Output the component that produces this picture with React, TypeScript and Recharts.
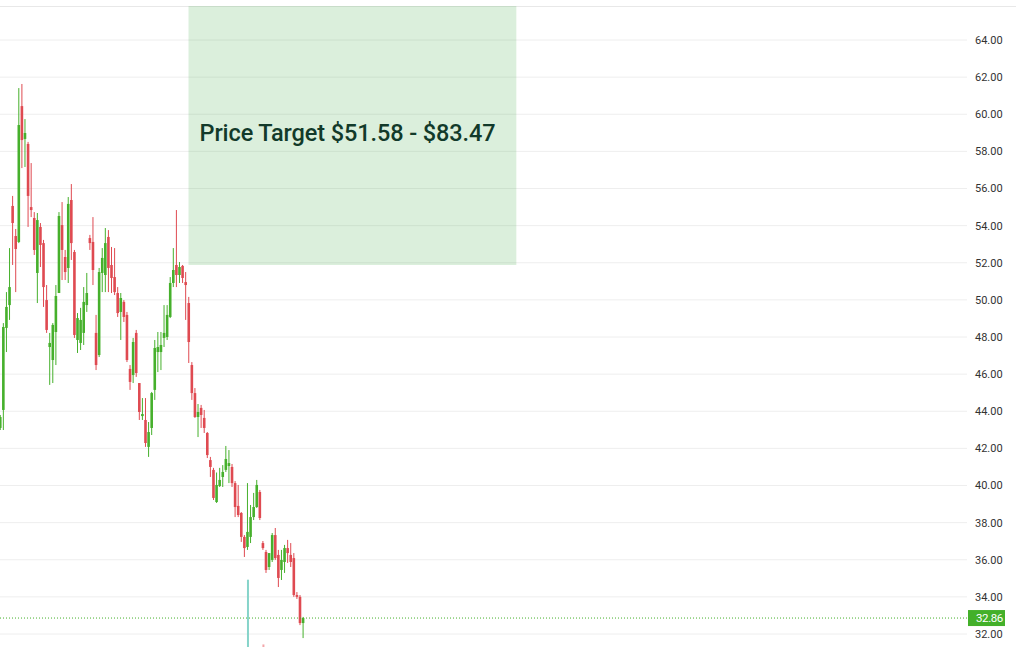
import {
  ComposedChart, Bar, XAxis, YAxis, CartesianGrid, ReferenceArea, ReferenceLine, Cell,
} from "recharts";

// daily candles, oldest first (prices in $)
const opens = [
  43.10, 44.07, 48.49, 49.72, 55.06, 53.44, 53.12, 60.44, 58.67, 58.40,
  55.00, 54.41, 51.45, 53.93, 53.06, 49.99, 47.46, 46.76, 48.27, 50.37,
  54.03, 52.31, 51.72, 55.38, 52.58, 47.84, 47.68, 48.22, 49.72, 53.33,
  53.12, 48.22, 47.03, 51.45, 51.34, 53.39, 51.88, 51.23, 50.37, 49.35,
  49.89, 49.19, 46.28, 45.95, 48.22, 45.52, 43.74, 43.53, 42.08, 43.10,
  45.15, 47.19, 47.19, 47.95, 48.00, 49.08, 50.91, 51.88, 51.34, 51.83,
  50.96, 49.83, 46.49, 44.98, 43.69, 44.18, 43.64, 42.83, 41.37, 40.84,
  39.11, 39.97, 40.46, 40.84, 41.05, 41.00, 40.13, 38.90, 38.52, 37.23,
  36.69, 37.23, 38.30, 38.84, 39.65, 36.90, 36.42, 35.61, 35.99, 37.33,
  36.26, 35.45, 35.88, 36.63, 36.26, 36.09, 34.10, 34.00, 32.59,
];
const highs = [
  43.80, 48.75, 50.42, 52.79, 55.60, 53.82, 61.41, 61.63, 59.74, 58.51,
  57.37, 54.73, 54.68, 54.14, 53.23, 50.80, 48.22, 48.75, 50.80, 54.73,
  55.27, 52.69, 55.54, 56.24, 52.69, 49.29, 49.57, 50.69, 51.45, 53.50,
  54.46, 49.19, 51.72, 52.79, 53.87, 53.76, 52.85, 52.79, 50.69, 50.37,
  49.99, 49.35, 46.49, 47.95, 48.38, 45.52, 44.71, 44.71, 43.42, 45.04,
  47.84, 48.27, 48.27, 49.72, 49.72, 51.23, 52.79, 54.84, 52.04, 51.88,
  51.50, 50.16, 46.65, 45.25, 44.39, 44.34, 44.07, 42.88, 41.54, 40.95,
  40.70, 40.95, 41.10, 42.13, 41.91, 41.16, 40.24, 40.03, 38.57, 37.33,
  40.13, 38.95, 39.60, 40.30, 39.76, 37.01, 36.53, 36.36, 37.44, 37.71,
  36.53, 36.53, 36.80, 37.07, 36.90, 36.36, 34.26, 34.10, 32.92,
];
const lows = [
  42.99, 42.99, 47.19, 48.92, 51.88, 50.42, 53.06, 57.10, 57.16, 53.93,
  54.46, 52.42, 49.83, 51.77, 49.62, 48.22, 45.42, 45.52, 46.49, 50.37,
  51.07, 51.07, 50.91, 52.15, 47.95, 47.14, 47.30, 47.57, 49.35, 52.69,
  50.80, 46.22, 46.92, 50.42, 50.42, 50.42, 50.37, 50.26, 49.08, 47.84,
  48.81, 46.65, 45.15, 45.52, 45.85, 43.53, 43.53, 42.08, 41.54, 42.72,
  44.61, 46.11, 46.22, 47.46, 47.84, 49.02, 50.69, 50.69, 50.91, 50.91,
  48.92, 46.60, 44.61, 43.64, 42.61, 43.10, 42.83, 41.48, 40.46, 39.22,
  39.06, 39.92, 39.92, 40.73, 40.13, 39.92, 38.30, 38.30, 36.96, 36.15,
  36.53, 36.90, 38.14, 38.79, 38.14, 36.53, 35.29, 35.45, 35.88, 35.99,
  34.53, 34.91, 35.29, 35.83, 35.61, 34.00, 33.89, 32.48, 31.78,
];
const closes = [
  43.69, 48.54, 49.62, 50.69, 54.14, 52.74, 59.42, 58.61, 58.99, 55.60,
  54.84, 52.69, 54.30, 52.96, 50.69, 48.38, 47.68, 48.65, 50.21, 54.52,
  52.69, 51.50, 55.17, 53.06, 48.11, 49.02, 48.92, 49.89, 50.37, 53.06,
  51.61, 46.49, 51.50, 52.26, 53.06, 51.72, 51.18, 50.42, 49.29, 50.10,
  49.08, 46.76, 45.58, 47.73, 46.06, 43.96, 43.85, 42.29, 42.88, 44.98,
  47.41, 47.46, 47.57, 48.22, 49.19, 50.91, 51.61, 51.34, 51.77, 51.18,
  50.80, 47.73, 44.98, 43.69, 43.96, 43.80, 43.10, 41.64, 41.00, 39.33,
  40.03, 40.30, 40.73, 41.43, 41.21, 40.13, 38.84, 38.41, 37.23, 36.63,
  37.50, 38.30, 38.84, 40.03, 38.25, 36.63, 35.45, 36.36, 37.33, 36.09,
  35.02, 35.99, 36.63, 36.36, 35.88, 34.10, 34.00, 32.59, 32.86,
];

// only the two volume bars that reach up into the visible area (share of pane height)
const volumeVisible = [
  { i: 80, v: 0.105 },
  { i: 85, v: 0.004 },
];

const priceTicks = [32, 34, 36, 38, 40, 42, 44, 46, 48, 50, 52, 54, 56, 58, 60, 62, 64];
const gridTicks = [9.9, 34.9, 60.9, 86.9, 112.9, 138.9, 164.9, 190.9, 216.9, 242.9, 268.9, 294.9];

const target = { low: 51.58, high: 83.47, shownLow: 51.88, from: 60.9, to: 167 };
const lastClose = 32.86;

const xDomain = [-0.1, 312.84];
const yMin = 31.3;
const yMax = 65.832;

const GREEN = "#46b02c";
const RED = "#df4a51";
const VOL_UP = "#86d4ca";
const VOL_DOWN = "#f3a7aa";

const data = opens.map((o, i) => {
  const hit = volumeVisible.find((d) => d.i === i);
  return {
    i,
    open: o,
    high: highs[i],
    low: lows[i],
    close: closes[i],
    range: [lows[i], highs[i]],
    vol: hit ? hit.v : null,
  };
});

function Candle(props: any) {
  const { x, y, width, height, payload } = props;
  if (payload == null || height == null) return null;
  const { open, close, high, low } = payload;
  const color = close >= open ? GREEN : RED;
  const k = height / (high - low || 1);
  const top = y + (high - Math.max(open, close)) * k;
  const bodyH = Math.max(Math.abs(open - close) * k, 1);
  const cx = x + width / 2;
  return (
    <g>
      <line x1={cx} x2={cx} y1={y} y2={y + height} stroke={color} strokeWidth={1} />
      <rect x={cx - 1.3} y={top} width={2.6} height={bodyH} fill={color} />
    </g>
  );
}

function PriceBadge({ viewBox }: any) {
  if (!viewBox) return null;
  const left = viewBox.x + viewBox.width;
  const cy = viewBox.y;
  return (
    <g>
      <rect x={left + 1} y={cy - 8} width={37} height={16} fill="#43b02a" />
      <text x={left + 9} y={cy + 4} fontSize={11.5} letterSpacing={-0.4} fill="#fff" fontFamily="Roboto">
        {lastClose.toFixed(2)}
      </text>
    </g>
  );
}

export default function App() {
  return (
    <div style={{ position: "fixed", left: 0, top: 0, width: 1016, height: 647, overflow: "hidden", background: "#fff" }}>
      <div style={{ position: "absolute", left: 0, top: 6, width: 1016, height: 1, background: "#e8e8e8" }} />
      <ComposedChart width={1016} height={647} data={data} margin={{ top: 6, right: 0, bottom: 0, left: 0 }}>
        <CartesianGrid
          xAxisId="p" yAxisId="p" stroke="#eeeeee"
          verticalValues={gridTicks} horizontalValues={priceTicks}
        />
        <XAxis
          xAxisId="p" type="number" dataKey="i" domain={xDomain} ticks={gridTicks} interval={0}
          tick={false} tickLine={false} axisLine={false} height={0} allowDataOverflow
        />
        <XAxis xAxisId="v" type="number" dataKey="i" domain={xDomain} hide allowDataOverflow />
        <YAxis
          yAxisId="p" orientation="right" width={49} domain={[yMin, yMax]} ticks={priceTicks} interval={0}
          allowDataOverflow tickLine={false} axisLine={false}
          tick={{ fontSize: 11, fill: "#333", fontFamily: "Roboto" }}
          tickFormatter={(v: number) => v.toFixed(2)}
        />
        <YAxis yAxisId="v" hide domain={[0, 1]} allowDataOverflow />
        <ReferenceArea
          xAxisId="p" yAxisId="p"
          x1={target.from} x2={target.to} y1={target.shownLow} y2={Math.min(target.high, yMax)}
          fill="#4caf50" fillOpacity={0.2} stroke="none" ifOverflow="hidden"
          label={{
            value: `Price Target $${target.low.toFixed(2)} - $${target.high.toFixed(2)}`,
            position: "insideLeft", offset: 11, fontSize: 23.5, fill: "#123a2a",
            fontFamily: "Roboto", fontWeight: 500, dy: -3, letterSpacing: -0.1,
          }}
        />
        <Bar xAxisId="v" yAxisId="v" dataKey="vol" barSize={2} isAnimationActive={false}>
          {data.map((d) => (
            <Cell key={d.i} fill={d.close >= d.open ? VOL_UP : VOL_DOWN} />
          ))}
        </Bar>
        <Bar
          xAxisId="p" yAxisId="p" dataKey="range" barSize={3} isAnimationActive={false}
          shape={(p: any) => <Candle {...p} />}
        />
        <ReferenceLine
          xAxisId="p" yAxisId="p" y={lastClose} stroke="#43b02a" strokeDasharray="1 2"
          label={(p: any) => <PriceBadge viewBox={p.viewBox} />}
        />
      </ComposedChart>
    </div>
  );
}
